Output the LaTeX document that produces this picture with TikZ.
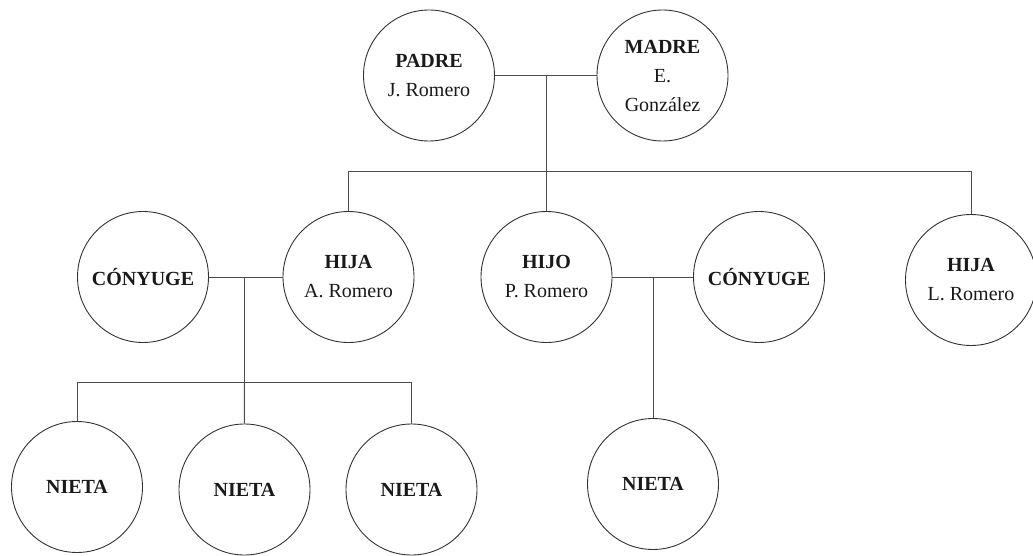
\documentclass[tikz,border=0pt]{standalone}
\usepackage{fontspec}
\setmainfont{Liberation Serif}
\begin{document}
\begin{tikzpicture}[x=1pt,y=-1pt,
  person/.style={circle,draw=black!80,line width=0.9pt,minimum size=131pt,inner sep=0pt,
    align=center,font=\fontsize{20}{29}\selectfont,text=black!90},
  link/.style={draw=black!70,line width=1pt}]
\useasboundingbox (0,0) rectangle (1033,556);
\node[person] (padre) at (429,75.5) {\textbf{PADRE}\\J. Romero};
\node[person] (madre) at (662.5,75.5) {\textbf{MADRE}\\E.\\González};
\node[person] (cony1) at (143,277) {\textbf{CÓNYUGE}};
\node[person] (hijaA) at (348.5,277) {\textbf{HIJA}\\A. Romero};
\node[person] (hijo) at (546.5,277) {\textbf{HIJO}\\P. Romero};
\node[person] (cony2) at (759,277) {\textbf{CÓNYUGE}};
\node[person] (hijaL) at (971,280) {\textbf{HIJA}\\L. Romero};
\node[person] (n1) at (77,487) {\textbf{NIETA}};
\node[person] (n2) at (244.5,489.5) {\textbf{NIETA}};
\node[person] (n3) at (411.5,489.5) {\textbf{NIETA}};
\node[person] (n4) at (653,484) {\textbf{NIETA}};
\coordinate (j0) at (546.5,75.5);
\coordinate (bar) at (546.5,171.7);
\coordinate (j1) at (244.3,277);
\coordinate (bar1) at (244.3,382.3);
\coordinate (j2) at (653,277);
\draw[link] (padre) -- (madre);
\draw[link] (j0) -- (bar);
\draw[link] (hijaA.north) |- (bar) -| (hijaL.north);
\draw[link] (bar) -- (hijo.north);
\draw[link] (cony1) -- (hijaA);
\draw[link] (j1) -- (bar1);
\draw[link] (n1.north) |- (bar1) -| (n3.north);
\draw[link] (bar1) -- (n2.north);
\draw[link] (hijo) -- (cony2);
\draw[link] (j2) -- (n4.north);
\end{tikzpicture}
\end{document}
